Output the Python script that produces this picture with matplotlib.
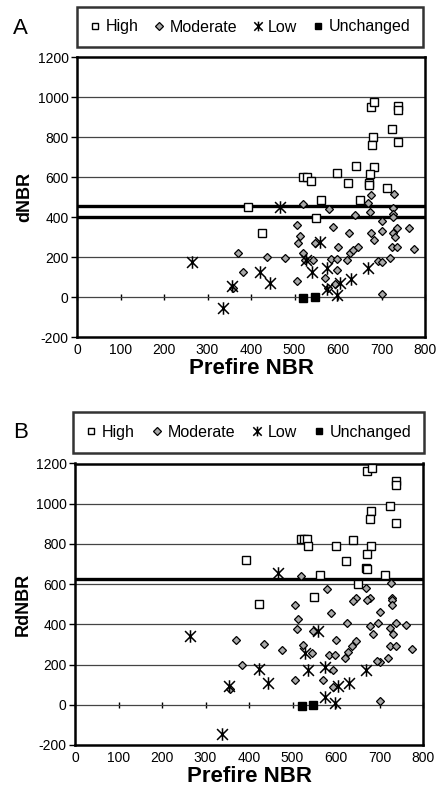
import matplotlib
matplotlib.use("Agg")
import matplotlib.pyplot as plt
from matplotlib.lines import Line2D
from matplotlib.path import Path

plt.rcParams['font.family'] = ['Liberation Sans', 'DejaVu Sans']
plt.rcParams['axes.unicode_minus'] = False

# ---- panel A: dNBR ----
a_high_x = [675, 683, 739, 739, 725, 681, 679, 739, 641, 683, 598, 673, 520, 529, 537,
            624, 672, 672, 713, 562, 651, 394, 549, 425]
a_high_y = [952, 973, 955, 937, 838, 798, 760, 773, 655, 652, 618, 613, 598, 602, 582,
            568, 570, 560, 543, 485, 485, 452, 393, 322]
a_mod_x = [520, 670, 580, 727, 727, 727, 640, 674, 676, 729,
           506, 513, 509, 588, 626, 700, 700, 676, 683, 727, 735, 731, 763, 723, 736, 775,
           691, 700, 720, 700,
           547, 520, 524, 543, 585, 598, 601, 621, 628, 635, 647, 597, 570, 505, 593, 578,
           478, 436, 371, 382, 358]
a_mod_y = [465, 468, 438, 445, 415, 402, 412, 427, 510, 515,
           360, 306, 272, 348, 322, 382, 332, 320, 285, 318, 343, 302, 343, 248, 248, 240,
           180, 177, 193, 15,
           268, 218, 185, 185, 188, 188, 248, 185, 218, 235, 252, 135, 93, 82, 65, 43,
           193, 198, 218, 127, 45]
a_low_x = [264, 336, 356, 421, 444, 467, 526, 540, 559, 574, 574, 597, 605, 631, 670]
a_low_y = [177, -57, 55, 127, 68, 452, 185, 127, 277, 143, 38, 10, 68, 88, 143]
a_unch_x = [520, 547]
a_unch_y = [-7, 2]
a_thresholds = [455, 400]

# ---- panel B: RdNBR ----
b_high_x = [672, 682, 738, 738, 723, 680, 678, 738, 640, 520, 526, 533, 536, 599, 680,
            672, 623, 669, 672, 563, 713, 651, 549, 392, 423]
b_high_y = [1161, 1178, 1112, 1092, 987, 965, 925, 904, 821, 826, 826, 826, 791, 791, 791,
            751, 713, 680, 675, 647, 647, 602, 536, 718, 501]
b_mod_x = [520, 580, 669, 726, 647, 678, 728,
           506, 513, 511, 588, 640, 672, 728, 728, 701, 626, 678, 697, 686, 724, 738, 732,
           761, 724, 738, 774, 700, 695, 720, 546, 601, 525, 544, 585, 598, 621, 628, 636,
           646, 594, 569, 506, 592, 700,
           370, 434, 477, 383, 356]
b_mod_y = [642, 576, 580, 605, 532, 532, 532,
           498, 426, 377, 456, 514, 522, 522, 498, 459, 406, 393, 406, 352, 382, 406, 352,
           398, 290, 290, 277, 215, 220, 232, 365, 320, 298, 257, 249, 249, 232, 265, 290,
           315, 174, 124, 124, 88, 21,
           320, 303, 274, 199, 78]
b_low_x = [264, 337, 355, 423, 444, 529, 536, 467, 559, 575, 605, 631, 669, 575, 598]
b_low_y = [343, -144, 95, 179, 108, 257, 174, 655, 365, 187, 91, 108, 174, 41, 8]
b_unch_x = [521, 546]
b_unch_y = [-8, 0]
b_thresholds = [628]

x_ticks = [0, 100, 200, 300, 400, 500, 600, 700, 800]
y_ticks = [-200, 0, 200, 400, 600, 800, 1000, 1200]
legend_labels = ['High', 'Moderate', 'Low', 'Unchanged']

# excel-style star: an x with a vertical bar through it
star = Path([(-1, -1), (1, 1), (-1, 1), (1, -1), (0, -1.15), (0, 1.15)],
            [Path.MOVETO, Path.LINETO, Path.MOVETO, Path.LINETO, Path.MOVETO, Path.LINETO])

W, H = 436, 794
fig = plt.figure(figsize=(W / 100, H / 100), dpi=100)


def draw_panel(ax, hx, hy, mx, my, lx, ly, ux, uy, thresholds, ylabel):
    for v in y_ticks[1:-1]:
        ax.axhline(v, color='#444444', lw=0.9, zorder=1)
    for t in thresholds:
        ax.axhline(t, color='black', lw=2.4, zorder=2)
    ax.plot(hx, hy, 's', ms=5.2, mfc='white', mec='black', mew=1.0, zorder=3)
    ax.plot(mx, my, 'D', ms=4.4, mfc='#a8a8a8', mec='black', mew=0.9, zorder=3)
    ax.plot(lx, ly, ls='', marker=star, ms=9, mfc='none', mec='black', mew=1.1, zorder=4)
    ax.plot(ux, uy, 's', ms=5.5, mfc='black', mec='black', zorder=4)

    ax.set_xlim(0, 800)
    ax.set_ylim(-200, 1200)
    ax.set_xticks(x_ticks)
    ax.set_yticks(y_ticks)
    ax.tick_params(axis='x', length=0, labelsize=10, pad=4)
    ax.tick_params(axis='y', length=4, width=1, direction='out', labelsize=10, pad=2)
    for s in ax.spines.values():
        s.set_linewidth(1.8)
    ax.set_xlabel('Prefire NBR', fontsize=16, fontweight='bold', labelpad=1)
    ax.set_ylabel(ylabel, fontsize=13, fontweight='bold', labelpad=3)

    # x axis crossing at y = 0 with tick marks
    sec = ax.secondary_xaxis(200 / 1400)
    sec.set_xticks(x_ticks)
    sec.tick_params(axis='x', direction='inout', length=5, width=1, labelbottom=False,
                    labeltop=False)
    sec.spines['bottom'].set_visible(False)
    sec.spines['top'].set_visible(False)


def add_legend(box):
    handles = [
        Line2D([], [], ls='', marker='s', ms=4.5, mfc='white', mec='black', mew=1),
        Line2D([], [], ls='', marker='D', ms=4, mfc='#a8a8a8', mec='black', mew=0.9),
        Line2D([], [], ls='', marker=star, ms=7, mfc='none', mec='black', mew=1.1),
        Line2D([], [], ls='', marker='s', ms=4.8, mfc='black', mec='black'),
    ]
    leg = fig.legend(handles, legend_labels, loc='center', bbox_to_anchor=box,
                     mode='expand', ncol=4, fontsize=11.5, frameon=True, fancybox=False,
                     handlelength=0.7, handletextpad=0.3, columnspacing=0.8,
                     borderpad=0.8, borderaxespad=0)
    leg.get_frame().set_edgecolor('black')
    leg.get_frame().set_linewidth(1.8)


ax_a = fig.add_axes([77 / W, 1 - 337 / H, 348 / W, 280 / H])
draw_panel(ax_a, a_high_x, a_high_y, a_mod_x, a_mod_y, a_low_x, a_low_y,
           a_unch_x, a_unch_y, a_thresholds, 'dNBR')
add_legend((77 / W, 1 - 47 / H, 346 / W, 40 / H))
fig.text(13 / W, 1 - 28 / H, 'A', fontsize=16, va='center', ha='left')

ax_b = fig.add_axes([75 / W, 1 - 745 / H, 348 / W, 281.5 / H])
draw_panel(ax_b, b_high_x, b_high_y, b_mod_x, b_mod_y, b_low_x, b_low_y,
           b_unch_x, b_unch_y, b_thresholds, 'RdNBR')
add_legend((73 / W, 1 - 450 / H, 351 / W, 35 / H))
fig.text(13 / W, 1 - 433 / H, 'B', fontsize=16, va='center', ha='left')

fig.savefig('out.png', dpi=100)
